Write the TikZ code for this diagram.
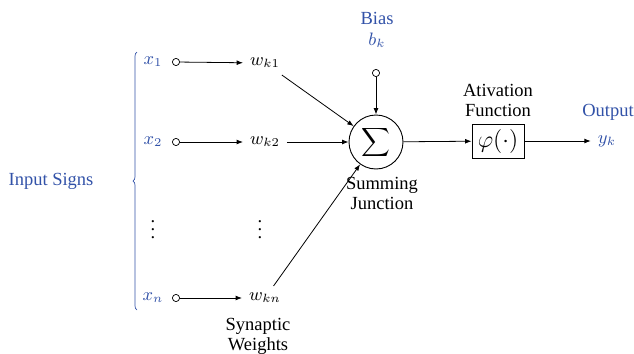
\documentclass[tikz,border=0pt]{standalone}
\usepackage{fontspec}
\setmainfont{Liberation Serif}
\usetikzlibrary{decorations.pathreplacing,arrows.meta}
\definecolor{myblue}{RGB}{50,82,168}
\begin{document}
\begin{tikzpicture}[x=0.5pt,y=-0.5pt,
  every node/.style={font=\fontsize{9.25}{11}\selectfont},
  lbl/.style={text=myblue},
  term/.style={circle,draw,line width=0.35pt,minimum size=3.6pt,inner sep=0pt},
  arr/.style={-{Latex[length=3.2pt,width=2.4pt]},line width=0.4pt},
  ln/.style={line width=0.4pt}]
\useasboundingbox (0,0) rectangle (634,354);
% input label and brace
\node[lbl] (inp) at (51,181) {Input Signs};
\coordinate (bt) at (137,52);
\coordinate (bb) at (137,310);
\draw[myblue,line width=0.35pt,decorate,decoration={brace,amplitude=2pt}] (bb) -- (bt);
% inputs
\node[lbl] (x1) at (153,62) {$x_1$};
\node[lbl] (x2) at (153,142) {$x_2$};
\node (xd) at (153,224) {$\vdots$};
\node[lbl] (xn) at (153,298) {$x_n$};
\node[term] (c1) at (176,62) {};
\node[term] (c2) at (176,142) {};
\node[term] (cn) at (176,298) {};
% weights
\node (w1) at (265,63) {$w_{k1}$};
\node (w2) at (265,142) {$w_{k2}$};
\node (wd) at (260,224) {$\vdots$};
\node (wn) at (265,298) {$w_{kn}$};
\draw[arr] (c1) -- (w1);
\draw[arr] (c2) -- (w2);
\draw[arr] (cn) -- (wn);
\node[align=center] (syn) at (258,336) {Synaptic\\[-1pt]Weights};
% summing junction
\node[circle,draw,line width=0.45pt,minimum size=27pt,inner sep=0pt] (sum) at (376,142)
  {\fontsize{10.5}{12}\selectfont$\displaystyle\sum$};
\draw[arr] (w1) -- (sum);
\draw[arr] (w2) -- (sum);
\draw[arr] (wn) -- (sum);
\node[align=center] (sj) at (382,193) {Summing\\[-1pt]Junction};
% bias
\node[lbl,align=center] (bias) at (377,30) {Bias\\[-0.5pt]$b_k$};
\node[term] (cb) at (376,73) {};
\draw[arr] (cb) -- (sum);
% activation
\node[draw,line width=0.45pt,minimum width=26pt,minimum height=17pt,inner sep=0pt] (phi) at (498,141)
  {\fontsize{12}{14}\selectfont$\varphi(\cdot)$};
\node[align=center] (act) at (498,100) {Ativation\\[-1pt]Function};
\draw[arr] (sum) -- (phi);
% output
\node[lbl] (out) at (608,112) {Output};
\node[lbl] (yk) at (607,141) {$y_k$};
\draw[arr] (phi) -- (yk);
\end{tikzpicture}
\end{document}
